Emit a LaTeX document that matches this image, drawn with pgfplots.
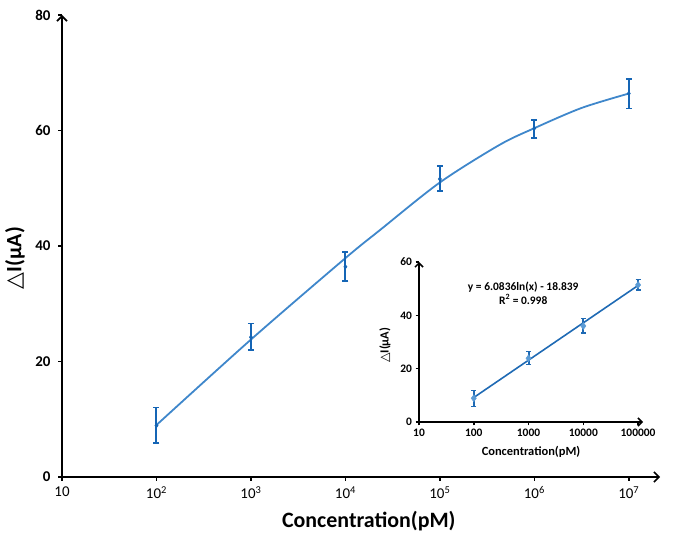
\documentclass[border=0pt]{standalone}
\usepackage{fontspec}
\setmainfont{Carlito}
\newfontfamily\djv{DejaVu Sans}
\usepackage{pgfplots}
\pgfplotsset{compat=1.18}
\usetikzlibrary{arrows.meta}
\definecolor{curve}{HTML}{3F87CB}
\definecolor{ebar}{HTML}{1565B5}
\definecolor{imark}{HTML}{5B9BD5}
\definecolor{iline}{HTML}{1F6AB4}
\begin{document}
\begin{tikzpicture}[x=1bp,y=1bp]
\path[use as bounding box] (0,0) rectangle (680,536);
\begin{axis}[
  at={(62bp,59bp)}, anchor=south west,
  scale only axis, width=598bp, height=462bp,
  xmode=log, xmin=10, xmax=2.14e7, ymin=0, ymax=80,
  axis lines=left,
  axis line style={line width=1.8bp, -{Straight Barb[length=5bp,width=10bp,line width=1.6bp]}},
  tick align=outside, major tick length=4bp,
  tick style={black, line width=1.6bp},
  xminorticks=false,
  xtick={10,100,1000,10000,100000,1000000,10000000},
  xticklabels={10,10\textsuperscript{2},10\textsuperscript{3},10\textsuperscript{4},10\textsuperscript{5},10\textsuperscript{6},10\textsuperscript{7}},
  ytick={0,20,40,60,80}, yticklabels={0,20,40,60,80},
  xticklabel style={font=\fontsize{15}{15}\selectfont, yshift=-2bp},
  yticklabel style={font=\bfseries\fontsize{15}{15}\selectfont, xshift=-4bp},
  xlabel={Concentration(pM)},
  ylabel={{\djv\mdseries △}I(μA)},
  every axis x label/.style={at={(axis description cs:0.513,0)}, yshift=-44bp, anchor=center, font=\bfseries\fontsize{22}{22}\selectfont},
  every axis y label/.style={at={(axis description cs:0,0.474)}, xshift=-47bp, anchor=center, rotate=90, font=\bfseries\fontsize{22}{22}\selectfont},
  clip=false,
]
\addplot[curve, line width=1.8bp, smooth, tension=0.5, mark=none] coordinates {
  (100,9.0) (1000,23.8) (10000,37.9) (23400,42.8) (100000,51.0) (427000,57.5) (1000000,60.4) (3160000,63.9) (10000000,66.4)
};
\addplot[only marks, mark=diamond*, mark size=2.2bp, color=ebar,
  error bars/.cd, y dir=both, y explicit,
  error bar style={ebar, line width=2.0bp},
  error mark options={ebar, line width=1.6bp, mark size=3bp, rotate=90}]
coordinates {
  (100,8.9) += (0,3.1) -= (0,3.0)
  (1000,24.2) += (0,2.4) -= (0,2.2)
  (10000,36.4) += (0,2.6) -= (0,2.5)
  (100000,51.6) += (0,2.3) -= (0,2.1)
  (1000000,60.4) += (0,1.4) -= (0,1.65)
  (10000000,66.4) += (0,2.5) -= (0,2.6)
};
\end{axis}
\begin{axis}[
  at={(419bp,114bp)}, anchor=south west,
  scale only axis, width=224bp, height=160bp,
  xmode=log, xmin=10, xmax=1.23e5, ymin=0, ymax=60,
  axis lines=left,
  axis line style={line width=1.6bp, -{Straight Barb[length=4bp,width=8bp,line width=1.5bp]}},
  tick align=outside, major tick length=3.5bp,
  tick style={black, line width=1.5bp},
  xminorticks=false,
  xtick={10,100,1000,10000,100000},
  xticklabels={10,100,1000,10000,100000},
  ytick={0,20,40,60}, yticklabels={0,20,40,60},
  xticklabel style={font=\bfseries\fontsize{11.5}{11.5}\selectfont},
  yticklabel style={font=\bfseries\fontsize{11.5}{11.5}\selectfont},
  xlabel={Concentration(pM)},
  ylabel={{\djv\mdseries △}I(μA)},
  every axis x label/.style={at={(axis description cs:0.5,0)}, yshift=-30bp, anchor=center, font=\bfseries\fontsize{12.5}{12.5}\selectfont},
  every axis y label/.style={at={(axis description cs:0,0.48)}, xshift=-34bp, anchor=center, rotate=90, font=\bfseries\fontsize{12.5}{12.5}\selectfont},
  clip=false,
]
\addplot[iline, line width=1.6bp, mark=none] coordinates {
  (100,9.18) (100000,51.2)
};
\addplot[only marks, mark=diamond*, mark size=3.5bp, color=imark,
  error bars/.cd, y dir=both, y explicit,
  error bar style={iline, line width=2bp},
  error mark options={iline, line width=1.4bp, mark size=2.5bp, rotate=90}]
coordinates {
  (100,8.9) += (0,3.0) -= (0,3.0)
  (1000,23.9) += (0,2.6) -= (0,2.4)
  (10000,36.0) += (0,2.9) -= (0,2.6)
  (100000,51.4) += (0,2.1) -= (0,1.9)
};
\node[font=\bfseries\fontsize{11.5}{14}\selectfont, align=center] at (axis cs:800,48.4) {y = 6.0836ln(x) - 18.839\\R\textsuperscript{2} = 0.998};
\end{axis}
\end{tikzpicture}
\end{document}
